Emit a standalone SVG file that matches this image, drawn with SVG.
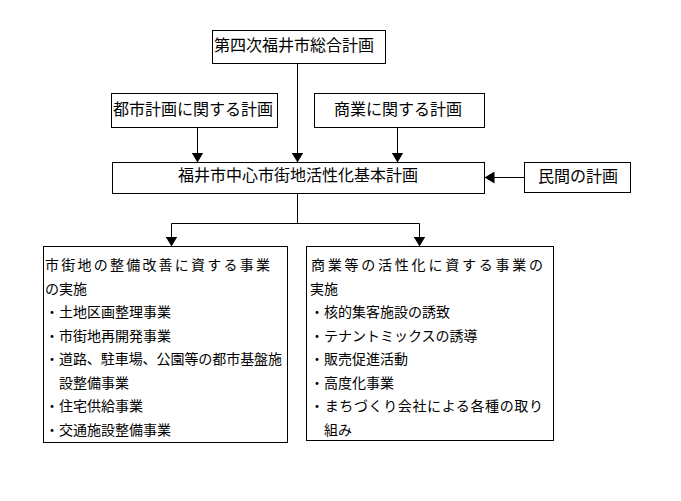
<svg xmlns="http://www.w3.org/2000/svg" width="681" height="501" viewBox="0 0 681 501">
<style>
.box{fill:#fff;stroke:#000;stroke-width:1}
.t{font-family:"Noto Sans CJK JP","Noto Sans CJK SC",sans-serif;font-size:16px;fill:#000}
.s{font-size:14px}
.c{text-anchor:middle}
.ln{fill:none;stroke:#000;stroke-width:1}
</style>
<defs>
<marker id="ah" viewBox="0 0 10 12" refX="10" refY="6" markerWidth="10" markerHeight="12" markerUnits="userSpaceOnUse" orient="auto">
<path d="M0,0 L10,6 L0,12 Z" fill="#000"/>
</marker>
</defs>
<rect width="681" height="501" fill="#fff"/>
<g id="connectors">
<path class="ln" d="M297.5 63.5 V162.5" marker-end="url(#ah)"/>
<path class="ln" d="M197.5 127.5 V162.5" marker-end="url(#ah)"/>
<path class="ln" d="M397.5 127.5 V162.5" marker-end="url(#ah)"/>
<path class="ln" d="M524.5 177.5 H484.5" marker-end="url(#ah)"/>
<path class="ln" d="M297.5 193.5 V223.5 M171.5 223.5 H419.5"/>
<path class="ln" d="M171.5 223.5 V246.5" marker-end="url(#ah)"/>
<path class="ln" d="M419.5 223.5 V246.5" marker-end="url(#ah)"/>
</g>
<g id="n_sougou">
<rect class="box" x="212.5" y="30.5" width="173" height="33"/>
<text class="t" x="214" y="51">第四次福井市総合計画</text>
</g>
<g id="n_toshi">
<rect class="box" x="111.5" y="93.5" width="166" height="34"/>
<text class="t" x="113" y="115">都市計画に関する計画</text>
</g>
<g id="n_shougyou">
<rect class="box" x="314.5" y="93.5" width="170" height="34"/>
<text class="t c" x="398" y="115">商業に関する計画</text>
</g>
<g id="n_kihon">
<rect class="box" x="112.5" y="162.5" width="372" height="31"/>
<text class="t c" x="298" y="181">福井市中心市街地活性化基本計画</text>
</g>
<g id="n_minkan">
<rect class="box" x="524.5" y="162.5" width="106" height="30"/>
<text class="t" x="538" y="182">民間の計画</text>
</g>
<g id="n_seibi">
<rect class="box" x="43.5" y="246.5" width="244" height="196"/>
<text class="t s" x="45" y="270" textLength="225" lengthAdjust="spacing">市街地の整備改善に資する事業</text>
<text class="t s" x="45" y="293.5">の実施</text>
<text class="t s" x="45" y="317">・土地区画整理事業</text>
<text class="t s" x="45" y="340.5">・市街地再開発事業</text>
<text class="t s" x="45" y="364" textLength="237" lengthAdjust="spacing">・道路、駐車場、公園等の都市基盤施</text>
<text class="t s" x="59" y="387.5">設整備事業</text>
<text class="t s" x="45" y="411">・住宅供給事業</text>
<text class="t s" x="45" y="434.5">・交通施設整備事業</text>
</g>
<g id="n_kasseika">
<rect class="box" x="306.5" y="246.5" width="247" height="194"/>
<text class="t s" x="311" y="270" textLength="232" lengthAdjust="spacing">商業等の活性化に資する事業の</text>
<text class="t s" x="310" y="293.5">実施</text>
<text class="t s" x="310" y="317">・核的集客施設の誘致</text>
<text class="t s" x="310" y="340.5">・テナントミックスの誘導</text>
<text class="t s" x="310" y="364">・販売促進活動</text>
<text class="t s" x="310" y="387.5">・高度化事業</text>
<text class="t s" x="310" y="411" textLength="233" lengthAdjust="spacing">・まちづくり会社による各種の取り</text>
<text class="t s" x="324" y="434.5">組み</text>
</g>
</svg>
